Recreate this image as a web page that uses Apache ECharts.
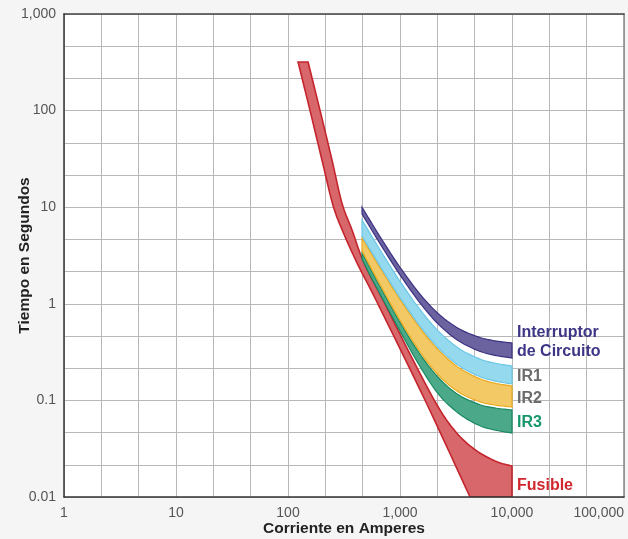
<!DOCTYPE html>
<html><head><meta charset="utf-8">
<script src="https://cdn.jsdelivr.net/npm/echarts@6/dist/echarts.min.js"></script>
<style>html,body{margin:0;padding:0;background:#f4f4f4;}#c{width:628px;height:539px;}</style>
</head><body><div id="c"></div>
<script>
// Tick values and labels
const xTickValues = [1, 10, 100, 1000, 10000, 100000];
const xTickLabels = ['1', '10', '100', '1,000', '10,000', '100,000'];
const yTickValues = [0.01, 0.1, 1, 10, 100, 1000];
const yTickLabels = ['0.01', '0.1', '1', '10', '100', '1,000'];

// Breaker / IR bands: current (A) and trip time (s) on each boundary
const bandCurrent   = [458, 550, 700, 1000, 1500, 2200, 3300, 5000, 7000, 10000];
const breakerUpperT = [10.0, 7.05, 4.49, 2.39, 1.27, 0.790, 0.559, 0.454, 0.414, 0.393];
const breakerLowerT = [8.5, 5.98, 3.79, 1.99, 1.03, 0.615, 0.417, 0.327, 0.293, 0.275];
const ir1UpperT     = [7.37, 5.18, 3.28, 1.71, 0.879, 0.522, 0.350, 0.272, 0.243, 0.227];
const ir1LowerT     = [5.03, 3.53, 2.23, 1.16, 0.594, 0.350, 0.232, 0.179, 0.159, 0.148];
const ir2UpperT     = [4.80, 3.37, 2.13, 1.11, 0.566, 0.333, 0.221, 0.170, 0.151, 0.141];
const ir2LowerT     = [3.52, 2.36, 1.41, 0.676, 0.321, 0.183, 0.123, 0.098, 0.0896, 0.0855];
const ir3UpperT     = [3.36, 2.25, 1.34, 0.643, 0.304, 0.1725, 0.115, 0.0916, 0.0835, 0.0796];
const ir3LowerT     = [2.91, 1.894, 1.121, 0.523, 0.227, 0.1165, 0.0741, 0.0556, 0.0494, 0.046];

// Fuse band
const fuseUpperCurrent = [151, 193, 247, 303, 373, 477, 720, 1280, 2140, 3100, 4580, 7050, 10000];
const fuseUpperT       = [319, 101, 30.8, 11.05, 5.81, 2.645, 1.044, 0.275, 0.0896, 0.0482, 0.0314, 0.0236, 0.0209];
const fuseLowerCurrent = [123, 157, 201, 252, 310, 422, 610, 1670, 4220];
const fuseLowerT       = [319, 101, 30.8, 10.5, 5.54, 2.52, 1.095, 0.101, 0.01];
const fuseCorner       = [[10000, 0.01]];

const bandNames = ['Interruptor de Circuito', 'IR1', 'IR2', 'IR3', 'Fusible'];

const zip = (xs, ys) => xs.map((x, i) => [x, ys[i]]);

function smoothPath(pts, n) {
  if (pts.length < 3) return pts.slice();
  const out = [];
  for (let i = 0; i < pts.length - 1; i++) {
    const p0 = pts[i - 1] || pts[i], p1 = pts[i], p2 = pts[i + 1], p3 = pts[i + 2] || pts[i + 1];
    for (let k = 0; k < n; k++) {
      const t = k / n, t2 = t * t, t3 = t2 * t;
      const f = d => 0.5 * (2 * p1[d] + (-p0[d] + p2[d]) * t + (2 * p0[d] - 5 * p1[d] + 4 * p2[d] - p3[d]) * t2 + (-p0[d] + 3 * p1[d] - 3 * p2[d] + p3[d]) * t3);
      out.push([f(0), f(1)]);
    }
  }
  out.push(pts[pts.length - 1]);
  return out;
}

function band(name, upper, lower, corner, fill, stroke, lw) {
  return {
    type: 'custom', name: name, xAxisIndex: 0, yAxisIndex: 0,
    data: upper.concat(corner, lower), encode: { x: 0, y: 1 },
    clip: true, z: 5,
    renderItem: function (params, api) {
      if (params.dataIndex !== 0) return null;
      const up = smoothPath(upper.map(p => api.coord(p)), 10);
      const mid = corner.map(p => api.coord(p));
      const lo = smoothPath(lower.map(p => api.coord(p)), 10).reverse();
      return {
        type: 'polygon',
        shape: { points: up.concat(mid, lo) },
        style: { fill: fill, stroke: stroke, lineWidth: lw, lineJoin: 'miter' }
      };
    }
  };
}

const FONT = '"Liberation Sans", Arial, Helvetica, sans-serif';
function lbl(values, labels) {
  return v => {
    const i = values.findIndex(t => Math.abs(Math.log10(t) - Math.log10(v)) < 1e-6);
    return i >= 0 ? labels[i] : '';
  };
}

const chart = echarts.init(document.getElementById('c'), null, { renderer: 'canvas' });
chart.setOption({
  backgroundColor: '#f5f5f5',
  animation: false,
  grid: { left: 64, right: 4, top: 14, bottom: 42, show: true, backgroundColor: '#ffffff', borderWidth: 0, containLabel: false, outerBoundsMode: 'none' },
  xAxis: [
    { type: 'log', logBase: 10, min: 1, max: 100000, position: 'bottom',
      name: 'Corriente en Amperes', nameLocation: 'middle', nameGap: 24, nameMoveOverlap: false,
      nameTextStyle: { fontFamily: FONT, fontWeight: 'bold', fontSize: 15.5, color: '#222', verticalAlign: 'top' },
      axisLine: { show: true, lineStyle: { color: '#333', width: 1.5 } },
      axisTick: { show: false }, splitLine: { show: false }, minorTick: { show: false },
      axisLabel: { formatter: lbl(xTickValues, xTickLabels), fontFamily: FONT, fontSize: 14, color: '#555', margin: 9, alignMaxLabel: 'right' },
      z: 10 },
    { type: 'value', min: 0, max: 15, interval: 1, position: 'top',
      axisLine: { show: true, lineStyle: { color: '#444', width: 1.5 } },
      axisTick: { show: false }, axisLabel: { show: false },
      splitLine: { show: true, lineStyle: { color: '#b8b8b8', width: 1 } } }
  ],
  yAxis: [
    { type: 'log', logBase: 10, min: 0.01, max: 1000, position: 'left',
      name: 'Tiempo en Segundos', nameLocation: 'middle', nameGap: 31, nameRotate: 90, nameMoveOverlap: false,
      nameTextStyle: { fontFamily: FONT, fontWeight: 'bold', fontSize: 15.5, color: '#222' },
      axisLine: { show: true, lineStyle: { color: '#333', width: 1.5 } },
      axisTick: { show: false }, splitLine: { show: false }, minorTick: { show: false },
      axisLabel: { formatter: lbl(yTickValues, yTickLabels), fontFamily: FONT, fontSize: 14, color: '#555', margin: 8 },
      z: 10 },
    { type: 'value', min: 0, max: 15, interval: 1, position: 'right',
      axisLine: { show: true, lineStyle: { color: '#888', width: 1.5 } },
      axisTick: { show: false }, axisLabel: { show: false },
      splitLine: { show: true, lineStyle: { color: '#b8b8b8', width: 1 } } }
  ],
  series: [
    band(bandNames[4], zip(fuseUpperCurrent, fuseUpperT), zip(fuseLowerCurrent, fuseLowerT), fuseCorner, '#d8676b', '#c4252d', 1.6),
    band(bandNames[3], zip(bandCurrent, ir3UpperT), zip(bandCurrent, ir3LowerT), [], '#4ba98a', '#17885f', 1.2),
    band(bandNames[2], zip(bandCurrent, ir2UpperT), zip(bandCurrent, ir2LowerT), [], '#f3c966', '#e9a91c', 1.2),
    band(bandNames[1], zip(bandCurrent, ir1UpperT), zip(bandCurrent, ir1LowerT), [], '#95d9ee', '#6cc6e6', 1.2),
    band(bandNames[0], zip(bandCurrent, breakerUpperT), zip(bandCurrent, breakerLowerT), [], '#6b63a0', '#3b3282', 1.2)
  ],
  graphic: [
    { type: 'text', x: 517, y: 333, z: 20, style: { text: 'Interruptor', fill: '#3d3586', font: 'bold 16px ' + FONT, textVerticalAlign: 'middle', verticalAlign: 'middle' } },
    { type: 'text', x: 517, y: 352, z: 20, style: { text: 'de Circuito', fill: '#3d3586', font: 'bold 16px ' + FONT, textVerticalAlign: 'middle', verticalAlign: 'middle' } },
    { type: 'text', x: 517, y: 377, z: 20, style: { text: 'IR1', fill: '#6b6b6b', font: 'bold 16px ' + FONT, textVerticalAlign: 'middle', verticalAlign: 'middle' } },
    { type: 'text', x: 517, y: 399, z: 20, style: { text: 'IR2', fill: '#6b6b6b', font: 'bold 16px ' + FONT, textVerticalAlign: 'middle', verticalAlign: 'middle' } },
    { type: 'text', x: 517, y: 423, z: 20, style: { text: 'IR3', fill: '#16976b', font: 'bold 16px ' + FONT, textVerticalAlign: 'middle', verticalAlign: 'middle' } },
    { type: 'text', x: 517, y: 486, z: 20, style: { text: 'Fusible', fill: '#d1262e', font: 'bold 16px ' + FONT, textVerticalAlign: 'middle', verticalAlign: 'middle' } }
  ]
});
</script></body></html>
